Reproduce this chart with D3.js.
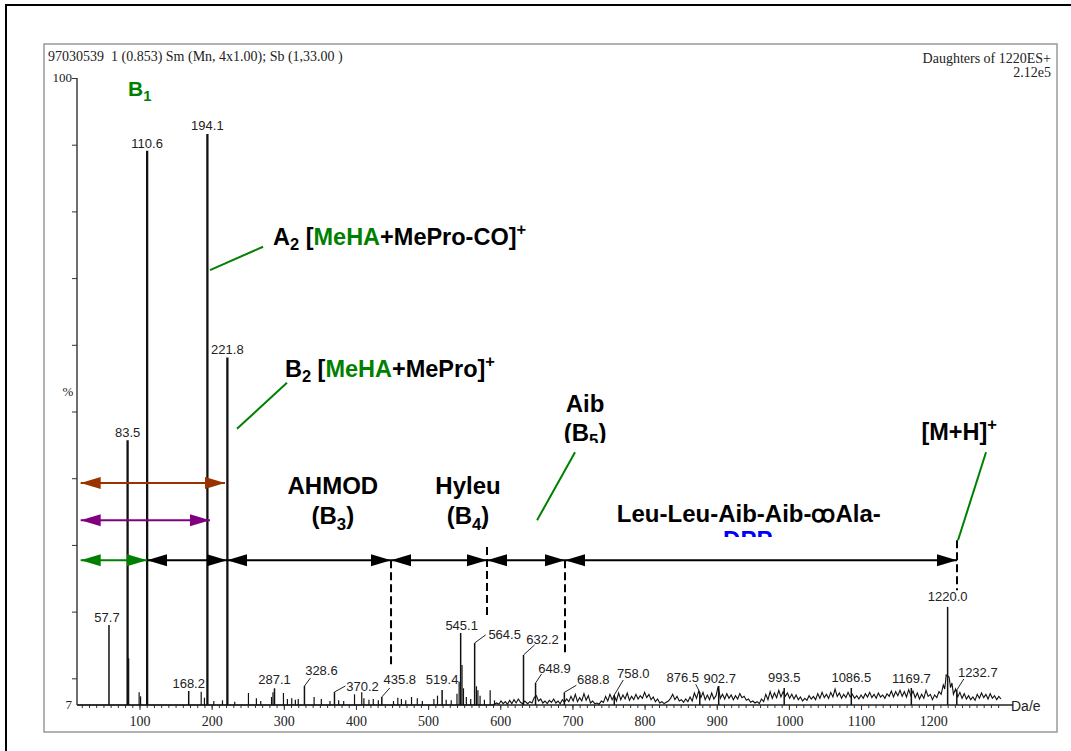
<!DOCTYPE html>
<html>
<head>
<meta charset="utf-8">
<title>Daughters of 1220ES+</title>
<script src="https://cdn.jsdelivr.net/npm/d3@7"></script>
<style>
  body { margin: 0; background: #fff; }
  .peaklab { font-family: "Liberation Sans", Arial, sans-serif; font-size: 13px; fill: #222; }
  .serif { font-family: "Liberation Serif", "Times New Roman", serif; fill: #222; white-space: pre; }
  .ann { font-family: "Liberation Sans", Arial, sans-serif; font-weight: bold; font-size: 22px; }
</style>
</head>
<body>
<div id="chart"></div>
<script>
// labelled peaks: m/z and intensity (% axis)
var peakMz  = [57.7, 83.5, 110.6, 168.2, 194.1, 221.8, 287.1, 328.6, 370.2, 435.8, 519.4, 545.1,
               564.5, 632.2, 648.9, 688.8, 758.0, 876.5, 902.7, 993.5, 1086.5, 1169.7, 1220.0, 1232.7];
var peakInt = [18.0, 45.7, 89.1, 8.1, 91.6, 58.1, 8.5, 8.85, 7.95, 7.2, 8.25, 16.8,
               15.3, 13.5, 9.3, 7.9, 7.5, 7.9, 8.85, 8.55, 8.55, 8.55, 20.7, 8.25];

// small unlabelled sticks in the low mass range
var minorMz  = [85.0, 99.5, 101.5, 185.5, 190.0, 203, 215, 232, 251, 262, 268, 283, 285, 299.5, 305, 311, 316, 320,
                342, 352, 364, 376, 383, 398, 408, 411, 418, 424, 431, 452, 458, 463, 469, 477, 485, 492, 508, 513,
                525, 532, 540, 543, 547, 549, 553, 559, 567, 569, 572, 578, 586, 592];
var minorInt = [13.0, 7.9, 7.3, 8.0, 7.1, 6.6, 6.7, 6.5, 7.8, 7.0, 6.6, 7.2, 7.9, 7.8, 6.9, 7.0, 6.8, 6.9,
                7.2, 6.9, 6.6, 6.7, 6.6, 7.6, 7.9, 7.0, 6.8, 6.9, 6.7, 6.6, 7.1, 6.9, 6.7, 7.2, 7.0, 6.6, 6.9, 7.4,
                6.8, 6.7, 7.7, 9.5, 12.0, 8.5, 7.2, 6.9, 8.8, 8.2, 7.4, 6.8, 8.2, 6.7];

// baseline trace (noise) m/z and intensity
var traceMz = [14, 590, 595, 598, 601, 604, 607, 610, 613, 616, 619, 622, 625, 628, 631, 634, 638, 641, 644, 647, 650, 653,
  656, 659, 662, 665, 668, 671, 674, 677, 680, 683, 686, 689, 692, 695, 698, 701, 704, 707, 710, 713, 716, 719, 722,
  725, 728, 731, 734, 737, 740, 743, 746, 749, 752, 755, 758, 761, 764, 767, 770, 773, 776, 779, 782, 785, 788, 791,
  794, 797, 800, 803, 806, 809, 812, 815, 818, 821, 824, 827, 830, 833, 836, 839, 842, 845, 848, 851, 854, 857, 860,
  863, 866, 869, 872, 875, 878, 881, 884, 887, 890, 893, 896, 899, 902, 905, 908, 911, 914, 917, 920, 923, 926, 929,
  932, 935, 938, 941, 944, 947, 950, 953, 956, 959, 962, 965, 968, 971, 974, 977, 980, 983, 986, 989, 992, 995, 998,
  1001, 1004, 1007, 1010, 1013, 1016, 1019, 1022, 1025, 1028, 1031, 1034, 1037, 1040, 1043, 1046, 1049, 1052, 1055,
  1058, 1061, 1064, 1067, 1070, 1073, 1076, 1079, 1082, 1085, 1088, 1091, 1094, 1097, 1100, 1103, 1106, 1109, 1112,
  1115, 1118, 1121, 1124, 1127, 1130, 1133, 1136, 1139, 1142, 1145, 1148, 1151, 1154, 1157, 1160, 1163, 1166, 1169,
  1172, 1175, 1178, 1181, 1184, 1187, 1190, 1193, 1196, 1199, 1202, 1205, 1208, 1211, 1214, 1216, 1218, 1222, 1224,
  1226, 1228, 1231, 1234, 1237, 1240, 1243, 1246, 1249, 1252, 1255, 1258, 1261, 1264, 1267, 1270, 1273, 1276, 1279,
  1282, 1285, 1288, 1291, 1294];
var traceInt = [6.0, 6.0, 6.3, 6.1, 6.6, 6.2, 6.5, 6.1, 6.7, 6.2, 6.8, 6.3, 6.9, 6.4, 6.2, 6.6, 6.2, 6.5, 6.3, 7.1, 7.4, 6.6,
  6.9, 6.3, 6.6, 6.2, 6.7, 6.4, 6.9, 6.3, 6.6, 6.2, 6.8, 6.4, 6.9, 6.5, 7.3, 6.6, 7.6, 6.5, 7.1, 6.6, 7.7, 6.7, 7.4,
  6.3, 6.6, 6.2, 6.3, 6.1, 6.6, 6.4, 7.3, 6.6, 7.6, 6.8, 7.4, 6.6, 7.8, 6.8, 7.5, 6.9, 7.8, 6.7, 7.3, 6.8, 7.6, 6.9,
  7.4, 7.0, 7.9, 7.1, 7.6, 6.8, 7.2, 6.5, 6.9, 6.3, 6.5, 6.2, 6.4, 6.6, 7.0, 7.6, 6.8, 7.3, 6.6, 6.8, 6.4, 6.9, 6.5,
  7.2, 6.6, 7.8, 7.0, 8.1, 7.1, 7.9, 6.8, 7.5, 6.8, 7.8, 6.9, 7.4, 8.8, 7.0, 7.6, 6.9, 7.7, 7.0, 7.5, 6.8, 7.4, 6.9,
  7.7, 7.1, 7.3, 6.7, 6.9, 6.4, 6.6, 6.3, 6.5, 6.2, 6.9, 6.5, 7.6, 6.8, 8.0, 7.0, 7.8, 7.1, 8.2, 7.2, 8.0, 7.3, 7.8,
  7.0, 7.6, 6.9, 7.5, 6.8, 7.2, 6.6, 7.0, 6.7, 7.4, 6.9, 7.3, 6.8, 7.7, 7.0, 7.9, 7.1, 7.6, 7.0,
  7.9, 7.2, 8.4, 7.3, 7.8, 7.0, 7.6, 7.1, 7.9, 7.2, 7.6, 7.0, 7.4, 6.9, 7.5, 7.0, 7.7, 7.2, 7.9,
  7.1, 7.6, 7.0, 7.8, 7.2, 7.5, 7.0, 7.7, 7.3, 8.1, 7.2, 8.0, 7.4, 8.2, 7.3, 8.0, 7.2, 8.3, 7.4,
  8.1, 7.1, 7.8, 6.9, 7.6, 7.0, 8.2, 7.3, 7.6, 6.8, 7.5, 7.1, 8.0, 7.6, 9.0, 8.4, 10.5, 10.2, 8.6,
  9.3, 7.6, 8.4, 7.2, 7.9, 7.0, 7.7, 6.9, 7.4, 6.8, 7.2, 6.7, 7.6, 7.0, 7.8, 7.1, 7.6, 6.9, 7.7,
  7.0, 7.4, 6.8, 7.3, 6.9];

// axis ticks
var xTickValues = [100, 200, 300, 400, 500, 600, 700, 800, 900, 1000, 1100, 1200];
var xTickLabels = ["100", "200", "300", "400", "500", "600", "700", "800", "900", "1000", "1100", "1200"];
var yLabelValues = [100, 6];
var yLabelTexts = ["100", "7"];

// fragment arrows: [from m/z, to m/z], level in % axis units
var arrowFrom  = [18.5, 18.5, 18.5, 110.4, 221.3, 448.6, 581.6, 689.7];
var arrowTo    = [218.5, 197.7, 110.4, 221.3, 448.6, 581.6, 689.7, 1233];
var arrowLevel = [39.3, 33.7, 27.7, 27.7, 27.7, 27.7, 27.7, 27.7];
var arrowColor = ["#993300", "#800080", "#008000", "#000", "#000", "#000", "#000", "#000"];

// dashed cut markers: m/z, top and bottom in % axis units
var cutMz  = [448.6, 581.6, 689.7, 1233];
var cutTop = [27.7, 29.7, 27.7, 30.7];
var cutBot = [11.7, 19.0, 13.8, 23.2];

var W = 1071, H = 751;
var svg = d3.select("#chart").append("svg").attr("width", W).attr("height", H);
svg.append("rect").attr("width", W).attr("height", H).attr("fill", "#fff");

var x = d3.scaleLinear().domain([100, 1200]).range([139.5, 933.2]);
var y = d3.scaleLinear().domain([6, 100]).range([705, 78]);
var xLeft = x.invert(77), xRight = x.invert(1013);

// frames
svg.append("rect").attr("x", 6).attr("y", 5).attr("width", 1090).attr("height", 780)
  .attr("fill", "none").attr("stroke", "#000").attr("stroke-width", 2);
svg.append("rect").attr("x", 44).attr("y", 44).attr("width", 1013).attr("height", 688)
  .attr("fill", "none").attr("stroke", "#999").attr("stroke-width", 1.5);

// header texts
svg.append("text").attr("class", "serif").attr("x", 48).attr("y", 61).style("font-size", "14px")
  .text("97030539  1 (0.853) Sm (Mn, 4x1.00); Sb (1,33.00 )");
svg.append("text").attr("class", "serif").attr("x", 1051).attr("y", 63).attr("text-anchor", "end")
  .style("font-size", "14px").text("Daughters of 1220ES+");
svg.append("text").attr("class", "serif").attr("x", 1051).attr("y", 77).attr("text-anchor", "end")
  .style("font-size", "14px").text("2.12e5");

// y axis
var yAxis = d3.axisLeft(y).tickValues(d3.range(10, 101, 10)).tickSize(5).tickFormat("");
var gy = svg.append("g").attr("transform", "translate(77,0)").call(yAxis);
gy.select(".domain").remove();
gy.selectAll(".tick line").attr("stroke", "#333").attr("stroke-width", 1);
svg.append("line").attr("x1", 77).attr("x2", 77).attr("y1", y(100)).attr("y2", y(6))
  .attr("stroke", "#222").attr("stroke-width", 1.3);
svg.selectAll(".ylab").data(yLabelValues).enter().append("text")
  .attr("class", "serif").attr("x", 72).attr("y", function(d) { return y(d) + 4; })
  .attr("text-anchor", "end").style("font-size", "13px")
  .text(function(d, i) { return yLabelTexts[i]; });
svg.append("text").attr("class", "serif").attr("x", 68).attr("y", 396).attr("text-anchor", "middle")
  .style("font-size", "13px").text("%");

// x axis
var gxm = svg.append("g").attr("transform", "translate(0,705)")
  .call(d3.axisBottom(x).tickValues(d3.range(20, 1300, 10)).tickSize(3).tickFormat(""));
gxm.select(".domain").remove();
var gx = svg.append("g").attr("transform", "translate(0,705)")
  .call(d3.axisBottom(x).tickValues(xTickValues).tickSize(5).tickPadding(6)
    .tickFormat(function(d, i) { return xTickLabels[i]; }));
gx.select(".domain").remove();
gx.selectAll("text").attr("class", "serif").style("font-size", "14px").attr("fill", "#222");
svg.selectAll(".tick line").attr("stroke", "#333");
svg.append("line").attr("x1", x(xLeft)).attr("x2", x(xRight)).attr("y1", y(6)).attr("y2", y(6))
  .attr("stroke", "#222").attr("stroke-width", 1.3);
svg.append("text").attr("x", 1011).attr("y", 711)
  .style("font-family", "Liberation Sans, Arial, sans-serif").style("font-size", "14px").attr("fill", "#222")
  .text("Da/e");

// noise trace
var trace = traceMz.map(function(m, i) { return [m, traceInt[i]]; });
svg.append("path").datum(trace)
  .attr("d", d3.line().x(function(d) { return x(d[0]); }).y(function(d) { return y(d[1]); }))
  .attr("fill", "none").attr("stroke", "#111").attr("stroke-width", 1.1);

// minor sticks
svg.selectAll(".minor").data(minorMz).enter().append("line")
  .attr("x1", function(d) { return x(d); }).attr("x2", function(d) { return x(d); })
  .attr("y1", y(6)).attr("y2", function(d, i) { return y(minorInt[i]); })
  .attr("stroke", "#111").attr("stroke-width", 1.2);

// labelled peaks
svg.selectAll(".peak").data(peakMz).enter().append("line")
  .attr("x1", function(d) { return x(d); }).attr("x2", function(d) { return x(d); })
  .attr("y1", y(6)).attr("y2", function(d, i) { return y(peakInt[i]); })
  .attr("stroke", "#111").attr("stroke-width", function(d, i) { return peakInt[i] > 40 ? 2.3 : 1.5; });

// label placement relative to peak top: [dx, dy, leader dx, leader dy]
var labelPos = {
  57.7: [-2, -3], 83.5: [0, -3], 110.6: [0, -3], 168.2: [0, -3], 194.1: [0, -4], 221.8: [0, -3],
  287.1: [0, -4], 328.6: [17, -11, 6, -8], 370.2: [28, -1, 11, -6], 435.8: [18, -13, 8, -9],
  519.4: [0, -6], 545.1: [1, -3], 564.5: [30, -4, 11, -8], 632.2: [19, -11, 11, -10],
  648.9: [19, -10, 6, -9], 688.8: [29, -8, 12, -7], 758: [19, -17, 9, -15], 876.5: [-17, -10, -4, -8],
  902.7: [1, -3], 993.5: [0, -6], 1086.5: [0, -6], 1169.7: [0, -5], 1220: [0, -6], 1232.7: [21, -13, 7, -11]
};
peakMz.forEach(function(m, i) {
  var p = labelPos[m], px = x(m), py = y(peakInt[i]);
  if (p.length > 2) {
    svg.append("line").attr("x1", px).attr("y1", py).attr("x2", px + p[2]).attr("y2", py + p[3])
      .attr("stroke", "#222").attr("stroke-width", 1);
  }
  svg.append("text").attr("class", "peaklab").attr("x", px + p[0]).attr("y", py + p[1])
    .attr("text-anchor", "middle").text(m.toFixed(1));
});

// dashed cut markers
svg.selectAll(".cut").data(cutMz).enter().append("line")
  .attr("x1", function(d) { return x(d); }).attr("x2", function(d) { return x(d); })
  .attr("y1", function(d, i) { return y(cutTop[i]); }).attr("y2", function(d, i) { return y(cutBot[i]); })
  .attr("stroke", "#000").attr("stroke-width", 2).attr("stroke-dasharray", "8,4");

// double headed arrows
function head(xt, yy, dir, col) {
  var L = 20, h = 6;
  svg.append("path")
    .attr("d", "M" + xt + "," + yy + "L" + (xt - dir * L) + "," + (yy - h) + "L" + (xt - dir * L) + "," + (yy + h) + "Z")
    .attr("fill", col);
}
arrowFrom.forEach(function(a, i) {
  var x1 = x(a), x2 = x(arrowTo[i]), yy = y(arrowLevel[i]), c = arrowColor[i];
  svg.append("line").attr("x1", x1).attr("x2", x2).attr("y1", yy).attr("y2", yy)
    .attr("stroke", c).attr("stroke-width", 2);
  head(x1, yy, -1, c);
  head(x2, yy, 1, c);
});

// rich text helper: parts = [text, colour, shift] shift: 0 normal, 1 sub, 2 sup
function rich(xm, v, anchor, size, parts, clip) {
  var t = svg.append("text").attr("class", "ann").attr("x", x(xm)).attr("y", y(v))
    .attr("text-anchor", anchor).style("font-size", size + "px");
  if (clip) t.attr("clip-path", "url(#" + clip + ")");
  var cur = 0;
  parts.forEach(function(p) {
    var target = p[2] === 1 ? size * 0.22 : p[2] === 2 ? -size * 0.42 : 0;
    t.append("tspan").attr("dy", target - cur).attr("fill", p[1])
      .style("font-size", p[2] ? (size * 0.7) + "px" : null).text(p[0]);
    cur = target;
  });
  return t;
}
var defs = svg.append("defs");
defs.append("clipPath").attr("id", "clipB5").append("rect").attr("x", 0).attr("y", 0).attr("width", W).attr("height", 443);
defs.append("clipPath").attr("id", "clipDPP").append("rect").attr("x", 0).attr("y", 531).attr("width", W).attr("height", 6);

var G = "#008000";
rich(84, 97.3, "start", 21, [["B", G, 0], ["1", G, 1]]);
rich(285, 75.0, "start", 23.5, [["A", "#000", 0], ["2", "#000", 1], [" [", "#000", 0], ["MeHA", G, 0],
  ["+MePro-CO]", "#000", 0], ["+", "#000", 2]]);
rich(301.5, 55.2, "start", 23.5, [["B", "#000", 0], ["2", "#000", 1], [" [", "#000", 0], ["MeHA", G, 0],
  ["+MePro]", "#000", 0], ["+", "#000", 2]]);
rich(368, 37.6, "middle", 24, [["AHMOD", "#000", 0]]);
rich(368, 33.1, "middle", 24, [["(B", "#000", 0], ["3", "#000", 1], [")", "#000", 0]]);
rich(555.3, 37.6, "middle", 24, [["Hyleu", "#000", 0]]);
rich(555.3, 33.1, "middle", 24, [["(B", "#000", 0], ["4", "#000", 1], [")", "#000", 0]]);
rich(717.5, 49.9, "middle", 24, [["Aib", "#000", 0]]);
rich(717.5, 45.6, "middle", 24, [["(B", "#000", 0], ["5", "#000", 1], [")", "#000", 0]], "clipB5");
rich(944.5, 33.4, "middle", 24, [["Leu-Leu-Aib-Aib-\uA74FAla-", "#000", 0]]);
rich(943, 29.6, "middle", 24, [["DPP", "#0000ff", 0]], "clipDPP");
rich(1236, 45.7, "middle", 23.5, [["[M+H]", "#000", 0], ["+", "#000", 2]]);

// green leader lines [m/z1, v1, m/z2, v2]
var leaders = [[197.7, 71.2, 271.2, 74.7], [235.1, 47.4, 304.4, 54.3], [651, 33.7, 703.6, 43.9], [1234.4, 30.7, 1273.2, 43.9]];
svg.selectAll(".lead").data(leaders).enter().append("line")
  .attr("x1", function(d) { return x(d[0]); }).attr("y1", function(d) { return y(d[1]); })
  .attr("x2", function(d) { return x(d[2]); }).attr("y2", function(d) { return y(d[3]); })
  .attr("stroke", G).attr("stroke-width", 2);
</script>
</body>
</html>
